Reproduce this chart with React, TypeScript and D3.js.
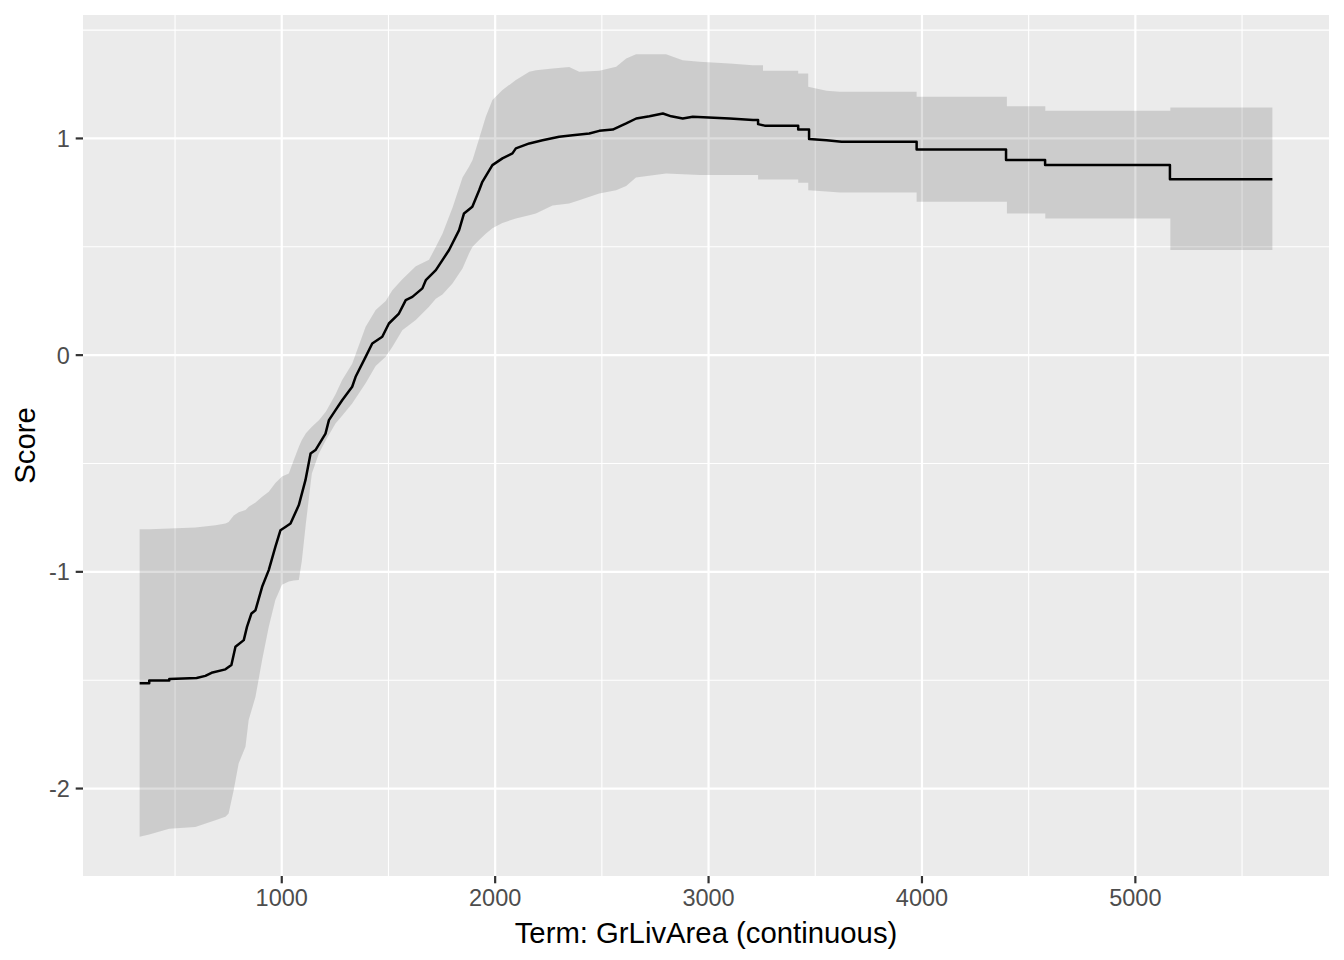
import React from "react";
import * as d3 from "d3";

// GrLivArea vs Score — polyline vertices
const lineX = [
  334, 379, 379, 473, 473, 601, 642, 671, 736, 764, 783, 822, 837, 858, 877, 908, 939, 970, 994,
  1017, 1041, 1080, 1111, 1135, 1158, 1205, 1221, 1252, 1283, 1330, 1346, 1393, 1424, 1471, 1502,
  1549, 1581, 1612, 1659, 1675, 1722, 1784, 1831, 1854, 1893, 1925, 1940, 1987, 2034, 2081, 2097,
  2160, 2222, 2300, 2363, 2441, 2488, 2551, 2614, 2661, 2723, 2786, 2825, 2879, 2926, 3099, 3208,
  3232, 3232, 3263, 3420, 3420, 3471, 3471, 3553, 3623, 3975, 3975, 4394, 4394, 4577, 4577, 5162,
  5162, 5642,
];
const lineY = [
  -1.514, -1.514, -1.502, -1.502, -1.494, -1.49, -1.48, -1.466, -1.45, -1.43, -1.346, -1.315,
  -1.254, -1.192, -1.177, -1.069, -0.992, -0.885, -0.808, -0.793, -0.777, -0.692, -0.577, -0.454,
  -0.438, -0.362, -0.3, -0.254, -0.208, -0.146, -0.1, -0.008, 0.054, 0.085, 0.146, 0.192, 0.254,
  0.269, 0.308, 0.346, 0.392, 0.485, 0.577, 0.654, 0.685, 0.761, 0.8, 0.877, 0.908, 0.931, 0.954,
  0.977, 0.992, 1.008, 1.015, 1.023, 1.035, 1.041, 1.069, 1.092, 1.102, 1.115, 1.102, 1.092, 1.1,
  1.092, 1.085, 1.085, 1.066, 1.059, 1.059, 1.041, 1.041, 0.997, 0.992, 0.985, 0.985, 0.949, 0.949,
  0.9, 0.9, 0.877, 0.877, 0.812, 0.812,
];

// Confidence band vertices: x, lower, upper
const bandX = [
  334, 379, 473, 595, 689, 736, 751, 775, 798, 830, 845, 877, 908, 939, 970, 1001, 1033, 1056, 1080,
  1094, 1113, 1141, 1174, 1207, 1252, 1283, 1330, 1393, 1440, 1487, 1518, 1565, 1628, 1690, 1722,
  1753, 1800, 1847, 1878, 1894, 1925, 1956, 1987, 2034, 2097, 2160, 2191, 2269, 2347, 2394, 2488,
  2567, 2614, 2660, 2801, 2879, 2958, 3099, 3208, 3232, 3232, 3255, 3255, 3420, 3420, 3467, 3467,
  3553, 3615, 3975, 3975, 4398, 4398, 4578, 4578, 5164, 5164, 5642,
];
const bandLo = [
  -2.223, -2.212, -2.185, -2.177, -2.146, -2.13, -2.115, -2.007, -1.884, -1.807, -1.684, -1.577,
  -1.407, -1.254, -1.13, -1.06, -1.045, -1.04, -1.038, -0.95, -0.777, -0.546, -0.454, -0.392,
  -0.315, -0.28, -0.223, -0.13, -0.05, -0.008, 0.038, 0.115, 0.162, 0.223, 0.26, 0.28, 0.33, 0.4,
  0.47, 0.5, 0.531, 0.56, 0.585, 0.61, 0.631, 0.645, 0.654, 0.69, 0.7, 0.715, 0.746, 0.761, 0.78,
  0.82, 0.838, 0.835, 0.831, 0.831, 0.831, 0.831, 0.81, 0.81, 0.81, 0.81, 0.795, 0.795, 0.761,
  0.755, 0.75, 0.75, 0.708, 0.708, 0.654, 0.654, 0.631, 0.631, 0.485, 0.485,
];
const bandHi = [
  -0.804, -0.804, -0.8, -0.795, -0.785, -0.777, -0.77, -0.74, -0.725, -0.715, -0.7, -0.68, -0.654,
  -0.63, -0.59, -0.56, -0.546, -0.485, -0.423, -0.392, -0.36, -0.331, -0.3, -0.26, -0.18, -0.115,
  -0.04, 0.131, 0.208, 0.25, 0.3, 0.35, 0.41, 0.44, 0.5, 0.56, 0.68, 0.82, 0.87, 0.9, 1.0, 1.1,
  1.177, 1.223, 1.27, 1.308, 1.315, 1.323, 1.33, 1.308, 1.312, 1.331, 1.369, 1.389, 1.389, 1.361,
  1.354, 1.346, 1.338, 1.338, 1.338, 1.338, 1.312, 1.312, 1.3, 1.3, 1.238, 1.22, 1.215, 1.215,
  1.192, 1.192, 1.149, 1.149, 1.128, 1.128, 1.143, 1.143,
];

const xBreaks = [1000, 2000, 3000, 4000, 5000];
const xMinor = [500, 1500, 2500, 3500, 4500, 5500];
const yBreaks = [-2, -1, 0, 1];
const yMinor = [-1.5, -0.5, 0.5, 1.5];

const xTitle = "Term: GrLivArea (continuous)";
const yTitle = "Score";

const W = 1344;
const H = 960;
const P = { left: 83, right: 1329, top: 15, bottom: 876 };
const FONT = "'Liberation Sans', Arial, Helvetica, sans-serif";

export default function App() {
  const xmin = d3.min(bandX)!;
  const xmax = d3.max(bandX)!;
  const ymin = Math.min(d3.min(bandLo)!, d3.min(lineY)!);
  const ymax = Math.max(d3.max(bandHi)!, d3.max(lineY)!);
  const xe = (xmax - xmin) * 0.05;
  const ye = (ymax - ymin) * 0.05;
  const x = d3.scaleLinear().domain([xmin - xe, xmax + xe]).range([P.left, P.right]);
  const y = d3.scaleLinear().domain([ymin - ye, ymax + ye]).range([P.bottom, P.top]);

  const bandIdx = bandX.map((_, i) => i);
  const area = d3
    .area<number>()
    .x((i) => x(bandX[i]))
    .y0((i) => y(bandLo[i]))
    .y1((i) => y(bandHi[i]));
  const lineIdx = lineX.map((_, i) => i);
  const line = d3
    .line<number>()
    .x((i) => x(lineX[i]))
    .y((i) => y(lineY[i]));

  const tickLen = 7.3;
  const gap = 5.9;

  return (
    <svg
      width={W}
      height={H}
      style={{ position: "absolute", left: 0, top: 0, background: "#fff" }}
      fontFamily={FONT}
    >
      <rect x={P.left} y={P.top} width={P.right - P.left} height={P.bottom - P.top} fill="#EBEBEB" />
      {/* minor grid */}
      {xMinor.map((v) => (
        <line key={"xm" + v} x1={x(v)} x2={x(v)} y1={P.top} y2={P.bottom} stroke="#fff" strokeWidth={1.1} />
      ))}
      {yMinor.map((v) => (
        <line key={"ym" + v} x1={P.left} x2={P.right} y1={y(v)} y2={y(v)} stroke="#fff" strokeWidth={1.1} />
      ))}
      {/* major grid */}
      {xBreaks.map((v) => (
        <line key={"xg" + v} x1={x(v)} x2={x(v)} y1={P.top} y2={P.bottom} stroke="#fff" strokeWidth={2.2} />
      ))}
      {yBreaks.map((v) => (
        <line key={"yg" + v} x1={P.left} x2={P.right} y1={y(v)} y2={y(v)} stroke="#fff" strokeWidth={2.2} />
      ))}
      {/* ribbon */}
      <path d={area(bandIdx) || ""} fill="#000" fillOpacity={0.13} />
      {/* line */}
      <path d={line(lineIdx) || ""} fill="none" stroke="#000" strokeWidth={2.5} strokeLinejoin="round" />
      {/* x axis */}
      {xBreaks.map((v) => (
        <g key={"xt" + v}>
          <line x1={x(v)} x2={x(v)} y1={P.bottom} y2={P.bottom + tickLen} stroke="#333" strokeWidth={2.2} />
          <text x={x(v)} y={P.bottom + tickLen + gap + 17} textAnchor="middle" fontSize={23.5} fill="#4D4D4D">
            {v}
          </text>
        </g>
      ))}
      {/* y axis */}
      {yBreaks.map((v) => (
        <g key={"yt" + v}>
          <line x1={P.left - tickLen} x2={P.left} y1={y(v)} y2={y(v)} stroke="#333" strokeWidth={2.2} />
          <text
            x={P.left - tickLen - gap}
            y={y(v) + 8.4}
            textAnchor="end"
            fontSize={23.5}
            fill="#4D4D4D"
          >
            {v}
          </text>
        </g>
      ))}
      <text x={(P.left + P.right) / 2} y={943} textAnchor="middle" fontSize={29.3} fill="#000">
        {xTitle}
      </text>
      <text
        transform={`translate(35,${(P.top + P.bottom) / 2}) rotate(-90)`}
        textAnchor="middle"
        fontSize={29.3}
        fill="#000"
      >
        {yTitle}
      </text>
    </svg>
  );
}
